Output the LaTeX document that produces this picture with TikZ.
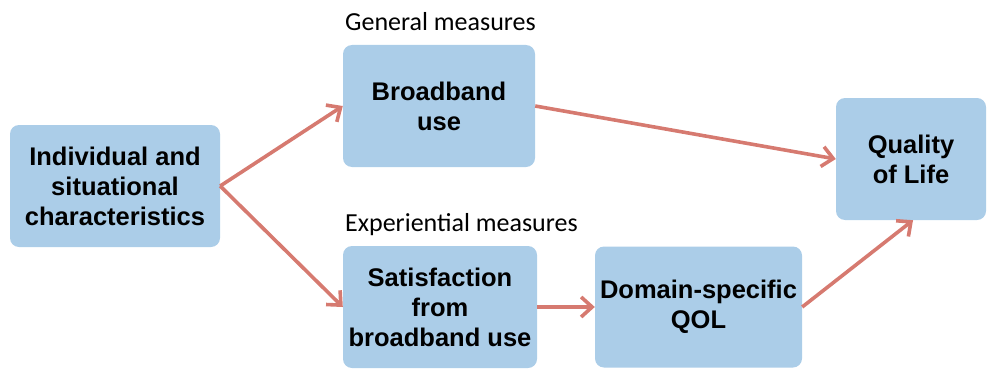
\documentclass[tikz,border=0pt]{standalone}
\usepackage{fontspec}
\setmainfont{Liberation Sans}
\newfontfamily\labelfont{Carlito}
\usetikzlibrary{arrows.meta}
\definecolor{boxfill}{RGB}{171,205,232}
\definecolor{arrowc}{RGB}{214,122,112}
\begin{document}
\begin{tikzpicture}[x=1pt,y=-1pt,
  box/.style={fill=boxfill, rounded corners=9pt, inner sep=0pt, font=\fontsize{25.5}{30}\selectfont\bfseries, align=center},
  conn/.style={draw=arrowc, line width=3.6pt, -{Straight Barb[length=11pt,width=20pt,line width=3.6pt]}},
  grouplabel/.style={font=\labelfont\fontsize{26}{30}\selectfont, anchor=base west, inner sep=0pt}]
\useasboundingbox (0,0) rectangle (987,369);
\node[box, minimum width=210pt, minimum height=122pt] (ind) at (115,186) {Individual and\\situational\\characteristics};
\node[box, minimum width=192pt, minimum height=122pt] (bb) at (439,106) {Broadband\\use};
\node[box, minimum width=194pt, minimum height=122pt] (sat) at (440,307) {Satisfaction\\from\\broadband use};
\node[box, minimum width=207pt, minimum height=121pt] (dom) at (698.5,307) {Domain-specific\\QOL};
\node[box, minimum width=150pt, minimum height=122pt] (qol) at (911,159) {Quality\\of Life};
\node[grouplabel] (gm) at (345,31) {General measures};
\node[grouplabel] (em) at (345,231) {Experiential measures};
\draw[conn] (ind.east) -- (bb.west);
\draw[conn] (ind.east) -- (sat.west);
\draw[conn] (bb.east) -- (qol.west);
\draw[conn] (sat.east) -- (dom.west);
\draw[conn] (dom.east) -- ([xshift=2pt]qol.south);
\end{tikzpicture}
\end{document}
